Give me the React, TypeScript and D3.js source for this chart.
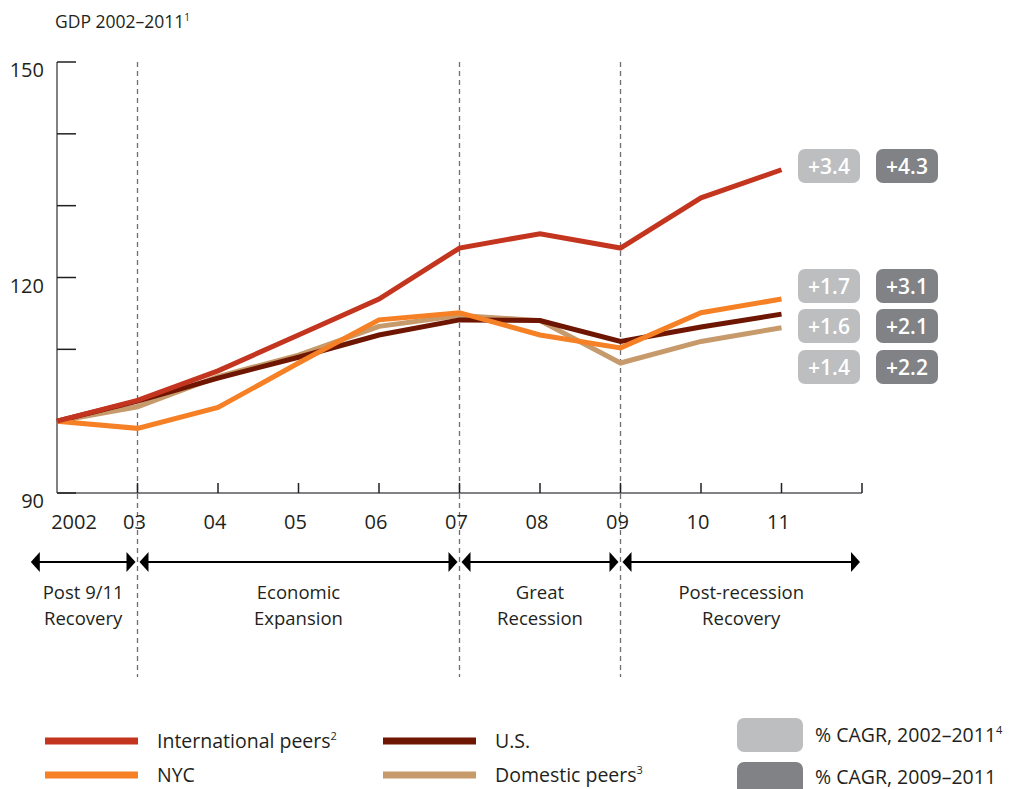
import React from "react";
import * as d3 from "d3";

const years = [2002, 2003, 2004, 2005, 2006, 2007, 2008, 2009, 2010, 2011];
const yearLabels = ["2002", "03", "04", "05", "06", "07", "08", "09", "10", "11"];
const intlPeers = [100, 102.9, 107.0, 112.0, 117.0, 124.1, 126.1, 124.1, 131.1, 135.0];
const nyc = [100, 99.0, 101.9, 108.1, 114.1, 115.1, 112.0, 110.2, 115.1, 117.0];
const us = [100, 102.8, 106.0, 108.9, 112.0, 114.1, 114.0, 111.1, 113.1, 114.9];
const domestic = [100, 102.0, 106.2, 109.2, 113.2, 114.7, 114.0, 108.1, 111.1, 113.0];
const yTicks = [90, 100, 110, 120, 130, 140, 150];
const yTickLabels = [90, 120, 150];
const periodBounds = [2003, 2007, 2009];
const periods = [
  { from: 2001.65, to: 2003, lines: ["Post 9/11", "Recovery"] },
  { from: 2003, to: 2007, lines: ["Economic", "Expansion"] },
  { from: 2007, to: 2009, lines: ["Great", "Recession"] },
  { from: 2009, to: 2012, lines: ["Post-recession", "Recovery"] },
];
const cagrLong = ["+3.4", "+1.7", "+1.6", "+1.4"];
const cagrShort = ["+4.3", "+3.1", "+2.1", "+2.2"];
const badgeRows = [166, 286, 326, 367];

const series = [
  { name: "Domestic peers", sup: "3", values: domestic, color: "#c69a6b" },
  { name: "U.S.", sup: "", values: us, color: "#6e1602" },
  { name: "NYC", sup: "", values: nyc, color: "#f58025" },
  { name: "International peers", sup: "2", values: intlPeers, color: "#c4351f" },
];

const FONT = "'Open Sans', Lato, sans-serif";

export default function App() {
  const x = d3.scaleLinear().domain([2002, 2012]).range([57, 862]);
  const y = d3.scaleLinear().domain([90, 150]).range([493, 62]);
  const line = d3
    .line<number>()
    .x((_, i) => x(years[i]))
    .y((d) => y(d));
  const arrowY = 562;
  const ah = 9;
  const aw = 10;
  const arrowHead = (tip: number, dir: number) =>
    `M${tip},${arrowY} L${tip - dir * ah},${arrowY - aw} L${tip - dir * ah},${arrowY + aw} Z`;

  return (
    <svg width={1024} height={789} style={{ display: "block", position: "absolute", left: 0, top: 0 }} fontFamily={FONT}>
      <rect width={1024} height={789} fill="#fff" />
      <text x={55} y={28} fontSize={17.5} fill="#231f20">
        GDP 2002–2011<tspan fontSize={10} dy={-7}>1</tspan>
      </text>

      {/* dashed period lines */}
      {periodBounds.map((b) => (
        <line key={b} x1={x(b)} x2={x(b)} y1={62} y2={677} stroke="#6d6e71" strokeWidth={1.3} strokeDasharray="5,4" />
      ))}

      {/* axes */}
      <line x1={x(2002)} x2={x(2002)} y1={y(150)} y2={y(90)} stroke="#808285" strokeWidth={2} />
      <line x1={x(2002)} x2={x(2012)} y1={y(90)} y2={y(90)} stroke="#808285" strokeWidth={2} />
      {yTicks.map((t) => (
        <line key={t} x1={x(2002)} x2={x(2002) + 19} y1={y(t)} y2={y(t)} stroke="#231f20" strokeWidth={1.5} />
      ))}
      {yTickLabels.map((t) => (
        <text key={t} x={44} y={y(t) + 15} fontSize={20} textAnchor="end" fill="#231f20">
          {t}
        </text>
      ))}
      {[...years.slice(1), 2012].map((yr) => (
        <line key={yr} x1={x(yr)} x2={x(yr)} y1={y(90)} y2={y(90) - 10} stroke="#231f20" strokeWidth={1.5} />
      ))}
      {years.map((yr, i) => (
        <text key={yr} x={x(yr) + (i === 0 ? 17 : -3)} y={529} fontSize={20} textAnchor="middle" fill="#231f20">
          {yearLabels[i]}
        </text>
      ))}

      {/* series */}
      {series.map((s) => (
        <path key={s.name} d={line(s.values) || ""} fill="none" stroke={s.color} strokeWidth={5} strokeLinejoin="miter" />
      ))}

      {/* period arrows */}
      {periods.map((p, i) => {
        const a = x(p.from) + 2;
        const b = x(p.to) - 2;
        const cx = (x(p.from) + x(p.to)) / 2;
        return (
          <g key={i}>
            <line x1={a + 4} x2={b - 4} y1={arrowY} y2={arrowY} stroke="#000" strokeWidth={2} />
            <path d={arrowHead(a, -1)} fill="#000" />
            <path d={arrowHead(b, 1)} fill="#000" />
            {p.lines.map((l, j) => (
              <text key={j} x={cx} y={599 + j * 25.5} fontSize={18.5} textAnchor="middle" fill="#231f20">
                {l}
              </text>
            ))}
          </g>
        );
      })}

      {/* CAGR badges */}
      {badgeRows.map((cy, i) => (
        <g key={i}>
          <rect x={798} y={cy - 17} width={62} height={34} rx={7} fill="#bcbec0" />
          <text x={829} y={cy + 7.5} fontSize={21} fontWeight={600} textAnchor="middle" fill="#fff">
            {cagrLong[i]}
          </text>
          <rect x={876} y={cy - 17} width={62} height={34} rx={7} fill="#808285" />
          <text x={907} y={cy + 7.5} fontSize={21} fontWeight={600} textAnchor="middle" fill="#fff">
            {cagrShort[i]}
          </text>
        </g>
      ))}

      {/* legend */}
      {[
        { s: series[3], lx: 45, ly: 741 },
        { s: series[2], lx: 45, ly: 775 },
        { s: series[1], lx: 383, ly: 741 },
        { s: series[0], lx: 383, ly: 775 },
      ].map(({ s, lx, ly }) => (
        <g key={s.name}>
          <line x1={lx} x2={lx + 93} y1={ly} y2={ly} stroke={s.color} strokeWidth={7} />
          <text x={lx + 112} y={ly + 7} fontSize={19.5} fill="#231f20">
            {s.name}
            {s.sup && (
              <tspan fontSize={11} dy={-8}>
                {s.sup}
              </tspan>
            )}
          </text>
        </g>
      ))}
      <rect x={737} y={718} width={66} height={34} rx={7} fill="#bcbec0" />
      <text x={815} y={742} fontSize={19.5} fill="#231f20">
        % CAGR, 2002–2011<tspan fontSize={11} dy={-8}>4</tspan>
      </text>
      <rect x={737} y={762} width={66} height={34} rx={7} fill="#808285" />
      <text x={815} y={784} fontSize={19.5} fill="#231f20">
        % CAGR, 2009–2011
      </text>
    </svg>
  );
}
